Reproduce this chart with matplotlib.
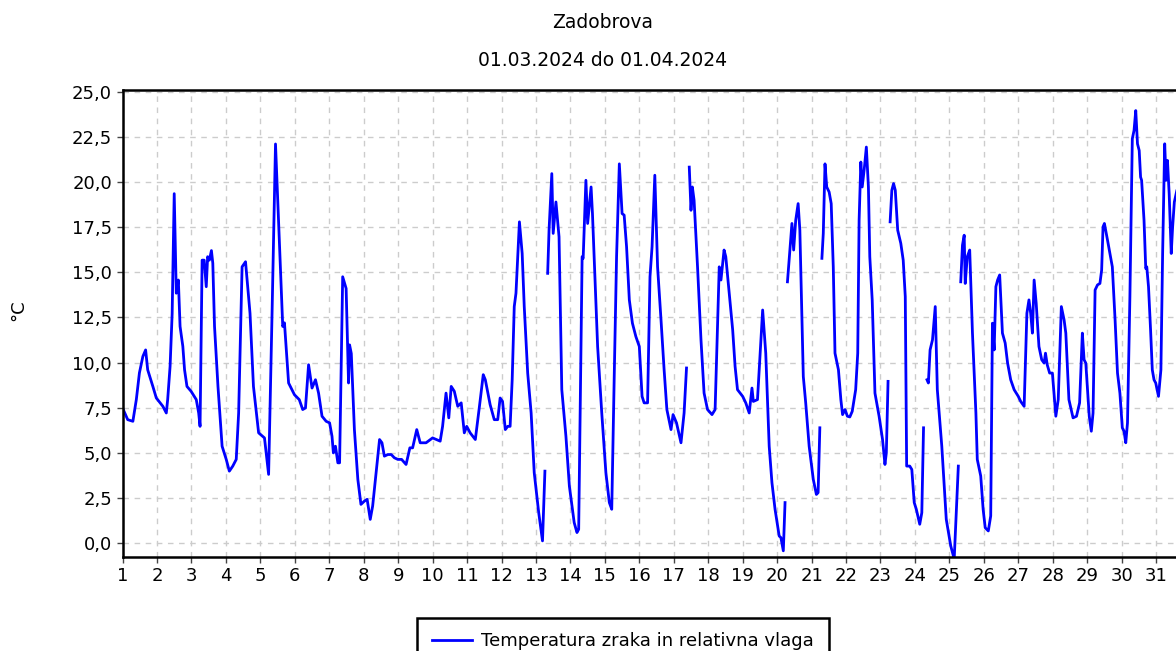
import numpy as np
import matplotlib
matplotlib.use("Agg")
import matplotlib.pyplot as plt
from matplotlib.ticker import FuncFormatter

nan = np.nan

# time in days of March 2024, NaN marks a gap in the record
day = [
    1.00, 1.15, 1.30, 1.40, 1.49, 1.59, 1.67, 1.73, 1.88, 1.98,
    2.17, 2.27, 2.31, 2.38, 2.44, 2.50, 2.56, 2.62, 2.67, 2.75, 2.80, 2.87, 2.99,
    3.14, 3.21, 3.25, 3.31, 3.37, 3.43, 3.47, 3.52, 3.58, 3.62, 3.67, 3.77, 3.89,
    4.01, 4.10, 4.20, 4.30, 4.37, 4.47, 4.57, 4.70, 4.80, 4.95,
    5.12, 5.24, 5.34, 5.44, 5.55, 5.65, 5.70, 5.82, 5.99,
    6.13, 6.23, 6.31, 6.40, 6.50, 6.60, 6.69, 6.79, 6.91,
    7.01, 7.08, 7.12, 7.18, 7.25, 7.30, 7.39, 7.49, 7.56, 7.59, 7.64, 7.73, 7.83, 7.92,
    8.02, 8.10, 8.19, 8.26, 8.36, 8.46, 8.53, 8.60, 8.70, 8.80, 8.89, 8.99,
    9.10, 9.23, 9.34, 9.42, 9.54, 9.64, 9.81,
    10.00, 10.22, 10.29, 10.39, 10.47, 10.54, 10.63, 10.73, 10.83, 10.92, 10.99,
    11.09, 11.24, 11.36, 11.47, 11.53, 11.67, 11.79, 11.89, 11.96,
    12.03, 12.11, 12.18, 12.25, 12.31, 12.37, 12.42, 12.52, 12.60, 12.66, 12.76, 12.86, 12.95,
    13.08, 13.19, 13.26, nan,
    13.34, 13.38, 13.46, 13.50, 13.58, 13.67, 13.75, 13.87, 13.97,
    14.11, 14.19, 14.24, 14.34, 14.37, 14.45, 14.50, 14.60, 14.64, 14.79, 14.91,
    15.03, 15.13, 15.20, 15.27, 15.34, 15.42, 15.50, 15.56, 15.63, 15.71, 15.80, 15.90,
    16.00, 16.08, 16.14, 16.24, 16.31, 16.37, 16.45, 16.53, 16.63, 16.72, 16.80, 16.92, 16.98,
    17.08, 17.21, 17.30, 17.37, nan,
    17.45, 17.50, 17.54, 17.59, 17.69, 17.79, 17.88, 17.98,
    18.11, 18.20, 18.32, 18.37, 18.46, 18.51, 18.61, 18.71, 18.78, 18.85,
    19.00, 19.09, 19.19, 19.27, 19.31, 19.43, 19.58, 19.67, 19.77, 19.85, 19.94,
    20.06, 20.11, 20.18, 20.23, nan,
    20.30, 20.37, 20.43, 20.48, 20.54, 20.61, 20.66, 20.76, 20.83, 20.93,
    21.05, 21.14, 21.19, 21.24, nan,
    21.30, 21.34, 21.39, 21.44, 21.51, 21.57, 21.63, 21.68, 21.78, 21.85, 21.90, 21.97,
    22.04, 22.11, 22.18, 22.28, 22.34, 22.38, 22.43, 22.47, 22.53, 22.59, 22.65, 22.69,
    22.76, 22.84, 22.96, 23.06, 23.13, 23.17, 23.22, nan,
    23.28, 23.33, 23.38, 23.43, 23.50, 23.59, 23.66, 23.72, 23.76, 23.85, 23.91, 23.98,
    24.04, 24.14, 24.20, 24.25, nan,
    24.35, 24.39, 24.44, 24.51, 24.59, 24.65, 24.78, 24.91, 25.04, 25.14, 25.26, nan,
    25.33, 25.38, 25.43, 25.46, 25.52, 25.59, 25.67, 25.77, 25.81, 25.91, 25.98,
    26.04, 26.13, 26.20, 26.25, 26.30, 26.35, 26.40, 26.46, 26.54, 26.62, 26.69, 26.78, 26.88,
    27.00, 27.07, 27.17, 27.25, 27.31, 27.36, 27.41, 27.46, 27.52, 27.60, 27.68, 27.75,
    27.79, 27.84, 27.91, 27.99,
    28.09, 28.16, 28.25, 28.33, 28.38, 28.47, 28.59, 28.69, 28.78, 28.86, 28.91, 28.96,
    29.06, 29.12, 29.17, 29.23, 29.30, 29.37, 29.42, 29.46, 29.50, 29.59, 29.73, 29.81,
    29.88, 29.95,
    30.02, 30.07, 30.12, 30.17, 30.24, 30.31, 30.36, 30.41, 30.46, 30.51, 30.55, 30.58,
    30.65, 30.70, 30.73, 30.78, 30.84, 30.89, 30.94, 30.99,
    31.07, 31.14, 31.19, 31.25, 31.29, 31.33, 31.38, 31.44, 31.48, 31.53, 31.60,
]

temp = [
    7.49, 6.84, 6.75, 7.95, 9.43, 10.34, 10.70, 9.60, 8.68, 8.04,
    7.58, 7.21, 7.95, 9.79, 12.70, 19.35, 13.84, 14.57, 12.00, 10.90, 9.60, 8.68, 8.41,
    7.95, 7.21, 6.47, 15.67, 15.67, 14.20, 15.86, 15.67, 16.20, 15.50, 12.00, 8.68, 5.37,
    4.64, 3.99, 4.27, 4.64, 7.21, 15.30, 15.58, 12.73, 8.68, 6.11,
    5.83, 3.81, 12.73, 22.10, 16.80, 12.00, 12.20, 8.87, 8.22,
    7.95, 7.40, 7.49, 9.88, 8.59, 9.05, 8.31, 7.03, 6.75,
    6.66, 5.92, 5.00, 5.37, 4.45, 4.45, 14.75, 14.10, 8.87, 10.98, 10.50, 6.29, 3.53, 2.15,
    2.33, 2.43, 1.32, 2.06, 3.90, 5.74, 5.56, 4.82, 4.91, 4.91, 4.73, 4.64,
    4.64, 4.36, 5.28, 5.28, 6.29, 5.56, 5.56,
    5.83, 5.65, 6.47, 8.31, 6.94, 8.68, 8.41, 7.58, 7.77, 6.11, 6.47,
    6.11, 5.74, 7.58, 9.33, 9.05, 7.67, 6.84, 6.84, 8.04,
    7.85, 6.29, 6.47, 6.47, 9.05, 13.10, 13.84, 17.79, 16.04, 13.10, 9.42, 7.21, 3.90,
    1.69, 0.13, 3.99, nan,
    14.94, 17.33, 20.46, 17.15, 18.89, 16.96, 8.50, 5.92, 3.16,
    1.14, 0.59, 0.77, 15.86, 15.77, 20.09, 17.70, 19.72, 18.25, 10.89, 7.21,
    3.90, 2.25, 1.88, 9.05, 15.86, 21.00, 18.25, 18.16, 16.41, 13.47, 12.18, 11.44,
    10.89, 8.13, 7.77, 7.77, 14.75, 16.41, 20.37, 15.30, 12.36, 9.60, 7.40, 6.29, 7.12,
    6.66, 5.56, 7.21, 9.70, nan,
    20.82, 18.43, 19.72, 18.98, 15.30, 11.26, 8.31, 7.40,
    7.12, 7.40, 15.30, 14.57, 16.23, 15.86, 13.84, 11.81, 9.79, 8.50,
    8.13, 7.77, 7.21, 8.59, 7.85, 7.95, 12.91, 10.52, 5.37, 3.35, 1.88,
    0.40, 0.31, -0.42, 2.25, nan,
    14.47, 16.23, 17.70, 16.23, 17.88, 18.80, 17.33, 9.23, 7.77, 5.37,
    3.53, 2.70, 2.80, 6.39, nan,
    15.77, 17.15, 21.00, 19.72, 19.44, 18.80, 15.30, 10.52, 9.60, 7.95, 7.12, 7.40,
    7.03, 6.99, 7.30, 8.50, 10.52, 17.88, 21.10, 19.72, 20.73, 21.93, 19.72, 15.86,
    13.47, 8.31, 7.03, 5.74, 4.36, 5.00, 8.96, nan,
    17.79, 19.54, 19.91, 19.54, 17.33, 16.60, 15.67, 13.65, 4.27, 4.27, 4.08, 2.25,
    1.88, 1.05, 1.69, 6.39, nan,
    9.05, 8.87, 10.70, 11.26, 13.10, 8.50, 5.37, 1.32, -0.15, -0.88, 4.27, nan,
    14.47, 16.50, 17.05, 14.38, 15.86, 16.23, 11.63, 7.21, 4.64, 3.72, 1.88,
    0.86, 0.68, 1.51, 12.18, 10.70, 14.20, 14.57, 14.85, 11.63, 11.08, 9.97, 9.05, 8.50,
    8.13, 7.85, 7.58, 12.73, 13.47, 12.73, 11.63, 14.57, 13.28, 10.89, 10.16, 9.97,
    10.52, 9.88, 9.42, 9.42,
    7.03, 7.95, 13.10, 12.36, 11.63, 7.95, 6.94, 7.03, 7.77, 11.63, 10.16, 9.97,
    7.03, 6.20, 7.21, 14.02, 14.30, 14.38, 15.12, 17.51, 17.70, 16.78, 15.30, 12.36,
    9.42, 8.31,
    6.39, 6.20, 5.56, 6.66, 13.65, 22.39, 22.85, 23.95, 22.11, 21.74, 20.27, 20.09,
    17.88, 15.21, 15.30, 14.20, 11.81, 9.60, 9.05, 8.87,
    8.13, 9.60, 16.04, 22.11, 20.09, 21.19, 19.35, 16.04, 17.51, 18.89, 19.50,
]

x_ticks = list(range(1, 32))
y_ticks = [0.0, 2.5, 5.0, 7.5, 10.0, 12.5, 15.0, 17.5, 20.0, 22.5, 25.0]

title = "Zadobrova"
subtitle = "01.03.2024 do 01.04.2024"
y_label = "°C"
series_name = "Temperatura zraka in relativna vlaga"

plt.rcParams['font.family'] = ['DejaVu Sans']

fig = plt.figure(figsize=(11.76, 6.51), dpi=100)
# axes run past the right edge of the picture, like in the original screenshot
ax = fig.add_axes([0.1042, 0.1439, 0.9023, 0.7179])

ax.plot(day, temp, color='#0000ff', linewidth=2.0, label=series_name)

ax.set_xlim(1, 31.8)
ax.set_ylim(-0.78, 25.09)
ax.set_xticks(x_ticks)
ax.set_yticks(y_ticks)
ax.yaxis.set_major_formatter(FuncFormatter(lambda v, p: f"{v:.1f}".replace('.', ',')))
ax.tick_params(axis='both', labelsize=13, direction='out', length=4, width=1, color='#444444')
ax.tick_params(axis='x', pad=3)

ax.grid(True, color='#cccccc', linestyle=(0, (4, 4)), linewidth=1)
ax.set_axisbelow(True)
for s in ax.spines.values():
    s.set_linewidth(1.8)
    s.set_color('black')

fig.text(603 / 1176, 1 - 22 / 651, title, ha='center', va='center', fontsize=13.5)
fig.text(603 / 1176, 1 - 61 / 651, subtitle, ha='center', va='center', fontsize=13.5)
fig.text(18 / 1176, 1 - 310 / 651, y_label, ha='center', va='center', rotation=90, fontsize=13)

leg = fig.legend(loc='upper center', bbox_to_anchor=(623 / 1176, 1 - 609 / 651),
                 fontsize=13, fancybox=False, framealpha=1, edgecolor='black',
                 borderpad=0.8, handlelength=2.2, handletextpad=0.55)
leg.get_frame().set_linewidth(1.8)

fig.savefig("out.png", dpi=100)
